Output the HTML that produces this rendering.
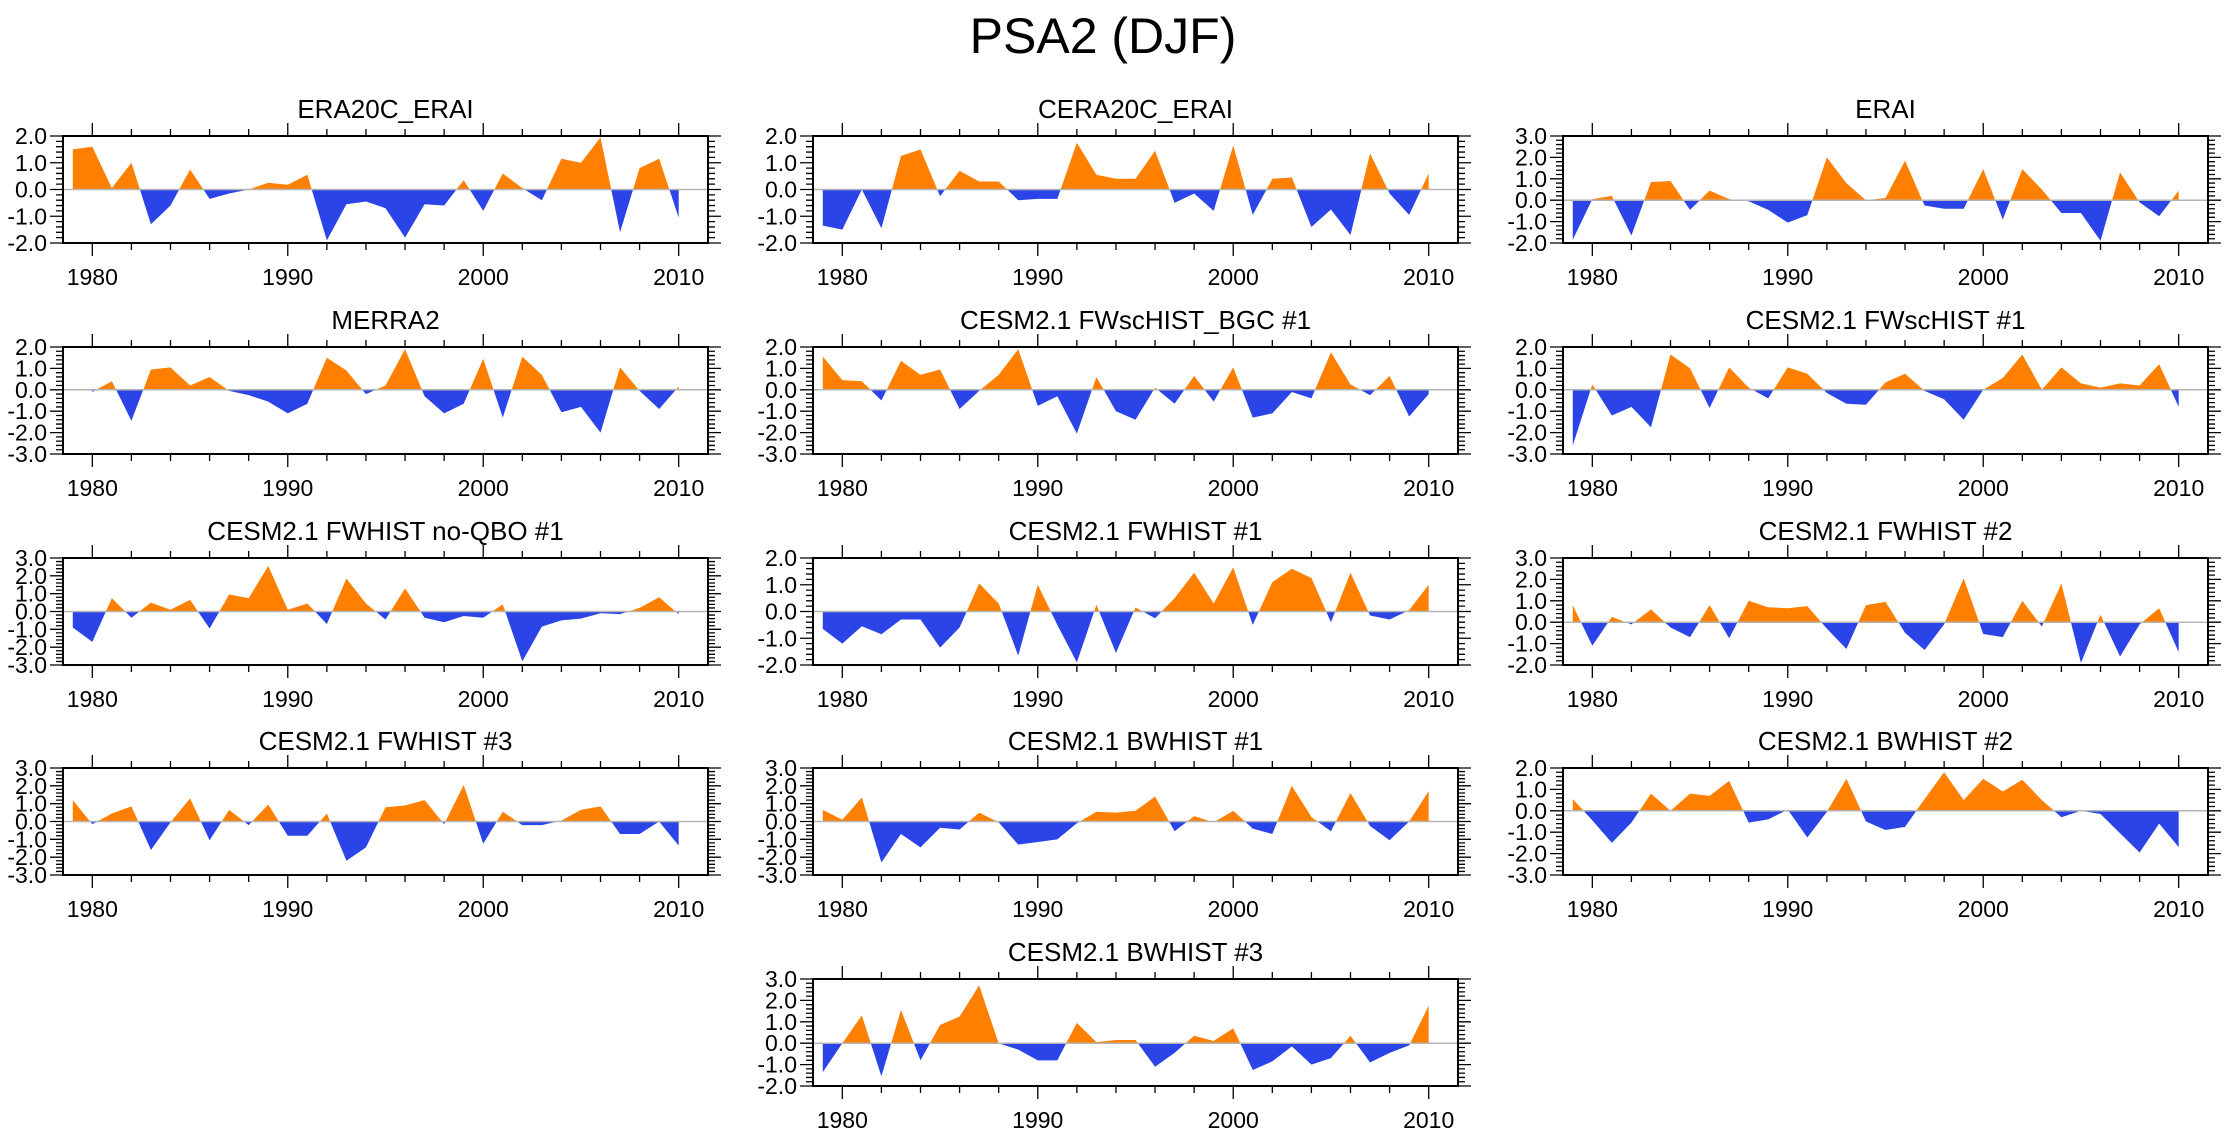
<!DOCTYPE html>
<html><head><meta charset="utf-8"><style>
html,body{margin:0;padding:0;background:#fff;}
svg{display:block;font-family:"Liberation Sans",Arial,sans-serif;}
</style></head><body>
<svg id="fig" width="2230" height="1133" viewBox="0 0 2230 1133" xmlns="http://www.w3.org/2000/svg">
<rect width="2230" height="1133" fill="#fff"/>
<text x="1103" y="53" font-size="50" text-anchor="middle" fill="#000">PSA2 (DJF)</text>
</svg>
<script>
const yearsFull = [1979,1980,1981,1982,1983,1984,1985,1986,1987,1988,1989,1990,1991,1992,1993,1994,1995,1996,1997,1998,1999,2000,2001,2002,2003,2004,2005,2006,2007,2008,2009,2010];
const yearsMerra = yearsFull.slice(1);
const xTickYears = [1980,1990,2000,2010];

const titles = ["ERA20C_ERAI","CERA20C_ERAI","ERAI","MERRA2","CESM2.1 FWscHIST_BGC #1","CESM2.1 FWscHIST #1","CESM2.1 FWHIST no-QBO #1","CESM2.1 FWHIST #1","CESM2.1 FWHIST #2","CESM2.1 FWHIST #3","CESM2.1 BWHIST #1","CESM2.1 BWHIST #2","CESM2.1 BWHIST #3"];
const yMins = [-2,-2,-2,-3,-3,-3,-3,-2,-2,-3,-3,-3,-2];
const yMaxs = [2,2,3,2,2,2,3,2,3,3,3,2,3];

const vEra20c = [1.5,1.6,0.05,1.0,-1.3,-0.6,0.75,-0.35,-0.15,0.0,0.25,0.18,0.55,-1.9,-0.55,-0.45,-0.7,-1.8,-0.55,-0.6,0.35,-0.8,0.6,0.05,-0.4,1.15,1.0,1.95,-1.6,0.8,1.15,-1.05];
const vCera20c = [-1.35,-1.5,0.0,-1.45,1.25,1.5,-0.25,0.7,0.3,0.3,-0.4,-0.35,-0.35,1.75,0.55,0.4,0.4,1.45,-0.5,-0.15,-0.8,1.65,-0.95,0.4,0.45,-1.4,-0.75,-1.7,1.35,-0.15,-0.95,0.6];
const vErai = [-1.85,0.05,0.2,-1.65,0.85,0.9,-0.45,0.45,0.05,-0.05,-0.45,-1.05,-0.7,2.0,0.8,0.0,0.1,1.85,-0.25,-0.4,-0.4,1.45,-0.9,1.45,0.5,-0.6,-0.6,-1.9,1.3,-0.1,-0.75,0.45];
const vMerra2 = [-0.1,0.4,-1.45,0.95,1.05,0.2,0.6,-0.05,-0.25,-0.55,-1.1,-0.65,1.5,0.9,-0.2,0.2,1.9,-0.3,-1.1,-0.65,1.45,-1.3,1.55,0.7,-1.05,-0.8,-2.0,1.05,-0.05,-0.9,0.15];
const vFwscBgc = [1.55,0.45,0.4,-0.5,1.35,0.7,0.95,-0.9,-0.05,0.7,1.9,-0.75,-0.3,-2.05,0.6,-1.0,-1.4,0.1,-0.65,0.65,-0.55,1.05,-1.3,-1.1,-0.1,-0.4,1.75,0.25,-0.25,0.65,-1.25,-0.2];
const vFwsc1 = [-2.6,0.25,-1.2,-0.8,-1.75,1.65,1.0,-0.85,1.05,0.1,-0.4,1.05,0.75,-0.15,-0.65,-0.7,0.35,0.75,-0.05,-0.45,-1.4,0.0,0.55,1.65,0.0,1.05,0.3,0.1,0.3,0.2,1.2,-0.8];
const vFwNoQbo = [-0.9,-1.7,0.75,-0.35,0.5,0.1,0.65,-0.95,0.95,0.75,2.55,0.1,0.45,-0.7,1.85,0.45,-0.45,1.3,-0.35,-0.6,-0.25,-0.35,0.4,-2.8,-0.85,-0.5,-0.4,-0.1,-0.15,0.2,0.8,-0.15];
const vFw1 = [-0.65,-1.2,-0.55,-0.85,-0.3,-0.3,-1.35,-0.6,1.05,0.3,-1.65,1.0,-0.5,-1.9,0.25,-1.55,0.15,-0.25,0.5,1.45,0.3,1.65,-0.5,1.1,1.6,1.25,-0.4,1.45,-0.15,-0.3,0.05,1.0];
const vFw2 = [0.8,-1.1,0.25,-0.1,0.6,-0.25,-0.7,0.8,-0.75,1.0,0.7,0.65,0.75,-0.3,-1.25,0.8,0.95,-0.5,-1.3,-0.1,2.05,-0.55,-0.7,1.0,-0.2,1.8,-1.9,0.35,-1.6,-0.1,0.65,-1.4];
const vFw3 = [1.2,-0.15,0.45,0.85,-1.6,-0.05,1.3,-1.05,0.65,-0.2,0.95,-0.8,-0.8,0.45,-2.2,-1.45,0.8,0.9,1.2,-0.15,2.05,-1.25,0.55,-0.2,-0.2,0.05,0.65,0.85,-0.7,-0.7,0.0,-1.35];
const vBw1 = [0.65,0.1,1.35,-2.3,-0.7,-1.45,-0.35,-0.45,0.5,-0.05,-1.3,-1.15,-1.0,-0.1,0.55,0.5,0.6,1.4,-0.55,0.3,-0.05,0.6,-0.4,-0.7,2.0,0.25,-0.55,1.6,-0.25,-1.05,0.0,1.7];
const vBw2 = [0.55,-0.45,-1.5,-0.55,0.8,0.0,0.8,0.7,1.4,-0.55,-0.4,0.05,-1.25,-0.05,1.5,-0.5,-0.9,-0.75,0.55,1.8,0.5,1.5,0.9,1.45,0.5,-0.3,0.0,-0.15,-1.05,-1.95,-0.6,-1.7];
const vBw3 = [-1.35,0.0,1.3,-1.55,1.55,-0.8,0.85,1.25,2.7,0.0,-0.3,-0.8,-0.8,0.95,0.05,0.15,0.15,-1.1,-0.45,0.35,0.1,0.7,-1.25,-0.85,-0.15,-1.0,-0.7,0.35,-0.9,-0.45,-0.1,1.75];

const seriesList = [vEra20c,vCera20c,vErai,vMerra2,vFwscBgc,vFwsc1,vFwNoQbo,vFw1,vFw2,vFw3,vBw1,vBw2,vBw3];
const yearsList = [yearsFull,yearsFull,yearsFull,yearsMerra,yearsFull,yearsFull,yearsFull,yearsFull,yearsFull,yearsFull,yearsFull,yearsFull,yearsFull];
const slotCol = [0,1,2,0,1,2,0,1,2,0,1,2,1];
const slotRow = [0,0,0,1,1,1,2,2,2,3,3,3,4];

const NS = "http://www.w3.org/2000/svg";
const svg = document.getElementById('fig');
const colLeft = [63,813,1563], panelW = 645, panelH = 107;
const rowTop = [136,347,558,768,979];
const X0 = 1978.5, X1 = 2011.5;
function mk(tag, attrs, parent){const e=document.createElementNS(NS,tag);for(const k in attrs)e.setAttribute(k,attrs[k]);parent.appendChild(e);return e;}

seriesList.forEach((vals, i) => {
  const L = colLeft[slotCol[i]], T = rowTop[slotRow[i]], R = L + panelW, B = T + panelH;
  const ymin = yMins[i], ymax = yMaxs[i], yrs = yearsList[i];
  const xs = y => L + (y - X0) / (X1 - X0) * panelW;
  const ys = v => B - (v - ymin) / (ymax - ymin) * panelH;
  const g = mk('g', {}, svg);
  
  
  const t = mk('text', {x: L + panelW/2, y: T - 18, 'font-size': 26, 'text-anchor': 'middle', fill: '#000'}, g);
  t.textContent = titles[i];
  
  
  const cid = 'c' + i;
  const defs = mk('defs', {}, g);
  const y0 = ys(0);
  const cpU = mk('clipPath', {id: cid + 'u'}, defs); mk('rect', {x: L, y: T, width: panelW, height: y0 - T}, cpU);
  const cpD = mk('clipPath', {id: cid + 'd'}, defs); mk('rect', {x: L, y: y0, width: panelW, height: B - y0}, cpD);
  let pts = vals.map((v, k) => xs(yrs[k]).toFixed(2) + ',' + ys(v).toFixed(2));
  pts.push(xs(yrs[yrs.length-1]).toFixed(2) + ',' + y0.toFixed(2));
  pts.push(xs(yrs[0]).toFixed(2) + ',' + y0.toFixed(2));
  const pu = mk('polygon', {points: pts.join(' '), fill: '#ff8000', 'clip-path': 'url(#' + cid + 'u)'}, g);
  
  
  const pd = mk('polygon', {points: pts.join(' '), fill: '#2a44e8', 'clip-path': 'url(#' + cid + 'd)'}, g);
  
  
  const zl = mk('line', {x1: L, x2: R, y1: y0, y2: y0, stroke: '#b4b4b4', 'stroke-width': 1.5}, g);
  
  
  let d = '';
  for (let yr = 1980; yr <= 2010; yr += 2) {
    const x = xs(yr), len = yr % 10 === 0 ? 13 : 7;
    d += `M${x},${T}v${-len}M${x},${B}v${len}`;
  }
  for (let k = Math.round(ymin*5); k <= Math.round(ymax*5); k++) {
    const y = ys(k/5), len = k % 5 === 0 ? 13 : 7;
    d += `M${L},${y}h${-len}M${R},${y}h${len}`;
  }
  const tk = mk('path', {d: d, stroke: '#000', 'stroke-width': 1.3, fill: 'none'}, g);
  
  
  const fr = mk('rect', {x: L, y: T, width: panelW, height: panelH, fill: 'none', stroke: '#000', 'stroke-width': 2}, g);
  
  
  for (let v = ymax; v >= ymin; v--) {
    const lt = mk('text', {x: L - 16, y: ys(v) + 8, 'font-size': 23, 'text-anchor': 'end', fill: '#000'}, g);
    lt.textContent = v.toFixed(1);
    
    
  }
  xTickYears.forEach(yr => {
    const xt = mk('text', {x: xs(yr), y: B + 42, 'font-size': 23, 'text-anchor': 'middle', fill: '#000'}, g);
    xt.textContent = yr;
    
    
  });
});
</script>
</body></html>
